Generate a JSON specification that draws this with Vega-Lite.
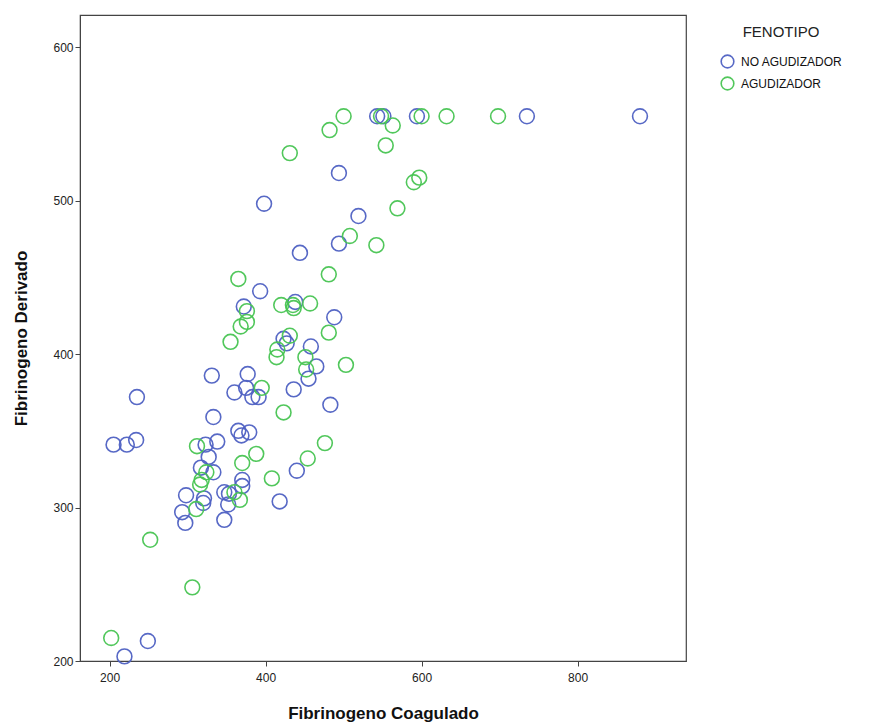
{
  "$schema": "https://vega.github.io/schema/vega-lite/v6.json",
  "width": 606,
  "height": 646,
  "autosize": {"type": "none"},
  "padding": {"left": 80, "top": 15, "right": 188, "bottom": 62},
  "background": "white",
  "config": {
    "font": "Liberation Sans",
    "view": {"stroke": "#444", "strokeWidth": 1.2},
    "axis": {"grid": false, "domainColor": "#444", "tickColor": "#444", "labelColor": "#222", "labelFontSize": 12, "titleFontSize": 17, "titleFontWeight": "bold", "titleColor": "#111", "tickSize": 5}
  },
  "data": {"values": [
    {"coag": 880, "der": 555, "fenotipo": "NO AGUDIZADOR"},
    {"coag": 735, "der": 555, "fenotipo": "NO AGUDIZADOR"},
    {"coag": 594, "der": 555, "fenotipo": "NO AGUDIZADOR"},
    {"coag": 543, "der": 555, "fenotipo": "NO AGUDIZADOR"},
    {"coag": 551, "der": 555, "fenotipo": "NO AGUDIZADOR"},
    {"coag": 494, "der": 518, "fenotipo": "NO AGUDIZADOR"},
    {"coag": 398, "der": 498, "fenotipo": "NO AGUDIZADOR"},
    {"coag": 519, "der": 490, "fenotipo": "NO AGUDIZADOR"},
    {"coag": 494, "der": 472, "fenotipo": "NO AGUDIZADOR"},
    {"coag": 444, "der": 466, "fenotipo": "NO AGUDIZADOR"},
    {"coag": 393, "der": 441, "fenotipo": "NO AGUDIZADOR"},
    {"coag": 372, "der": 431, "fenotipo": "NO AGUDIZADOR"},
    {"coag": 438, "der": 434, "fenotipo": "NO AGUDIZADOR"},
    {"coag": 488, "der": 424, "fenotipo": "NO AGUDIZADOR"},
    {"coag": 423, "der": 410, "fenotipo": "NO AGUDIZADOR"},
    {"coag": 427, "der": 407, "fenotipo": "NO AGUDIZADOR"},
    {"coag": 458, "der": 405, "fenotipo": "NO AGUDIZADOR"},
    {"coag": 465, "der": 392, "fenotipo": "NO AGUDIZADOR"},
    {"coag": 455, "der": 384, "fenotipo": "NO AGUDIZADOR"},
    {"coag": 331, "der": 386, "fenotipo": "NO AGUDIZADOR"},
    {"coag": 377, "der": 387, "fenotipo": "NO AGUDIZADOR"},
    {"coag": 360, "der": 375, "fenotipo": "NO AGUDIZADOR"},
    {"coag": 375, "der": 378, "fenotipo": "NO AGUDIZADOR"},
    {"coag": 383, "der": 372, "fenotipo": "NO AGUDIZADOR"},
    {"coag": 391, "der": 372, "fenotipo": "NO AGUDIZADOR"},
    {"coag": 436, "der": 377, "fenotipo": "NO AGUDIZADOR"},
    {"coag": 483, "der": 367, "fenotipo": "NO AGUDIZADOR"},
    {"coag": 235, "der": 372, "fenotipo": "NO AGUDIZADOR"},
    {"coag": 333, "der": 359, "fenotipo": "NO AGUDIZADOR"},
    {"coag": 365, "der": 350, "fenotipo": "NO AGUDIZADOR"},
    {"coag": 379, "der": 349, "fenotipo": "NO AGUDIZADOR"},
    {"coag": 369, "der": 347, "fenotipo": "NO AGUDIZADOR"},
    {"coag": 205, "der": 341, "fenotipo": "NO AGUDIZADOR"},
    {"coag": 222, "der": 341, "fenotipo": "NO AGUDIZADOR"},
    {"coag": 234, "der": 344, "fenotipo": "NO AGUDIZADOR"},
    {"coag": 323, "der": 341, "fenotipo": "NO AGUDIZADOR"},
    {"coag": 338, "der": 343, "fenotipo": "NO AGUDIZADOR"},
    {"coag": 327, "der": 333, "fenotipo": "NO AGUDIZADOR"},
    {"coag": 317, "der": 326, "fenotipo": "NO AGUDIZADOR"},
    {"coag": 333, "der": 323, "fenotipo": "NO AGUDIZADOR"},
    {"coag": 298, "der": 308, "fenotipo": "NO AGUDIZADOR"},
    {"coag": 293, "der": 297, "fenotipo": "NO AGUDIZADOR"},
    {"coag": 297, "der": 290, "fenotipo": "NO AGUDIZADOR"},
    {"coag": 321, "der": 306, "fenotipo": "NO AGUDIZADOR"},
    {"coag": 320, "der": 303, "fenotipo": "NO AGUDIZADOR"},
    {"coag": 347, "der": 310, "fenotipo": "NO AGUDIZADOR"},
    {"coag": 353, "der": 309, "fenotipo": "NO AGUDIZADOR"},
    {"coag": 352, "der": 302, "fenotipo": "NO AGUDIZADOR"},
    {"coag": 370, "der": 318, "fenotipo": "NO AGUDIZADOR"},
    {"coag": 370, "der": 314, "fenotipo": "NO AGUDIZADOR"},
    {"coag": 347, "der": 292, "fenotipo": "NO AGUDIZADOR"},
    {"coag": 418, "der": 304, "fenotipo": "NO AGUDIZADOR"},
    {"coag": 440, "der": 324, "fenotipo": "NO AGUDIZADOR"},
    {"coag": 249, "der": 213, "fenotipo": "NO AGUDIZADOR"},
    {"coag": 219, "der": 203, "fenotipo": "NO AGUDIZADOR"},
    {"coag": 500, "der": 555, "fenotipo": "AGUDIZADOR"},
    {"coag": 482, "der": 546, "fenotipo": "AGUDIZADOR"},
    {"coag": 548, "der": 555, "fenotipo": "AGUDIZADOR"},
    {"coag": 600, "der": 555, "fenotipo": "AGUDIZADOR"},
    {"coag": 632, "der": 555, "fenotipo": "AGUDIZADOR"},
    {"coag": 698, "der": 555, "fenotipo": "AGUDIZADOR"},
    {"coag": 563, "der": 549, "fenotipo": "AGUDIZADOR"},
    {"coag": 554, "der": 536, "fenotipo": "AGUDIZADOR"},
    {"coag": 431, "der": 531, "fenotipo": "AGUDIZADOR"},
    {"coag": 569, "der": 495, "fenotipo": "AGUDIZADOR"},
    {"coag": 508, "der": 477, "fenotipo": "AGUDIZADOR"},
    {"coag": 542, "der": 471, "fenotipo": "AGUDIZADOR"},
    {"coag": 590, "der": 512, "fenotipo": "AGUDIZADOR"},
    {"coag": 597, "der": 515, "fenotipo": "AGUDIZADOR"},
    {"coag": 481, "der": 452, "fenotipo": "AGUDIZADOR"},
    {"coag": 365, "der": 449, "fenotipo": "AGUDIZADOR"},
    {"coag": 376, "der": 428, "fenotipo": "AGUDIZADOR"},
    {"coag": 368, "der": 418, "fenotipo": "AGUDIZADOR"},
    {"coag": 376, "der": 421, "fenotipo": "AGUDIZADOR"},
    {"coag": 355, "der": 408, "fenotipo": "AGUDIZADOR"},
    {"coag": 420, "der": 432, "fenotipo": "AGUDIZADOR"},
    {"coag": 435, "der": 432, "fenotipo": "AGUDIZADOR"},
    {"coag": 436, "der": 430, "fenotipo": "AGUDIZADOR"},
    {"coag": 457, "der": 433, "fenotipo": "AGUDIZADOR"},
    {"coag": 481, "der": 414, "fenotipo": "AGUDIZADOR"},
    {"coag": 431, "der": 412, "fenotipo": "AGUDIZADOR"},
    {"coag": 415, "der": 403, "fenotipo": "AGUDIZADOR"},
    {"coag": 414, "der": 398, "fenotipo": "AGUDIZADOR"},
    {"coag": 451, "der": 398, "fenotipo": "AGUDIZADOR"},
    {"coag": 452, "der": 390, "fenotipo": "AGUDIZADOR"},
    {"coag": 503, "der": 393, "fenotipo": "AGUDIZADOR"},
    {"coag": 395, "der": 378, "fenotipo": "AGUDIZADOR"},
    {"coag": 423, "der": 362, "fenotipo": "AGUDIZADOR"},
    {"coag": 312, "der": 340, "fenotipo": "AGUDIZADOR"},
    {"coag": 476, "der": 342, "fenotipo": "AGUDIZADOR"},
    {"coag": 388, "der": 335, "fenotipo": "AGUDIZADOR"},
    {"coag": 454, "der": 332, "fenotipo": "AGUDIZADOR"},
    {"coag": 370, "der": 329, "fenotipo": "AGUDIZADOR"},
    {"coag": 324, "der": 323, "fenotipo": "AGUDIZADOR"},
    {"coag": 318, "der": 318, "fenotipo": "AGUDIZADOR"},
    {"coag": 316, "der": 315, "fenotipo": "AGUDIZADOR"},
    {"coag": 311, "der": 299, "fenotipo": "AGUDIZADOR"},
    {"coag": 360, "der": 310, "fenotipo": "AGUDIZADOR"},
    {"coag": 367, "der": 305, "fenotipo": "AGUDIZADOR"},
    {"coag": 408, "der": 319, "fenotipo": "AGUDIZADOR"},
    {"coag": 252, "der": 279, "fenotipo": "AGUDIZADOR"},
    {"coag": 306, "der": 248, "fenotipo": "AGUDIZADOR"},
    {"coag": 202, "der": 215, "fenotipo": "AGUDIZADOR"}
  ]},
  "mark": {"type": "point", "shape": "circle", "filled": false, "size": 220, "strokeWidth": 1.6, "opacity": 0.95},
  "encoding": {
    "x": {"field": "coag", "type": "quantitative", "title": "Fibrinogeno Coagulado",
      "scale": {"domain": [162, 939], "nice": false, "zero": false},
      "axis": {"values": [200, 400, 600, 800], "titlePadding": 22, "labelPadding": 6}},
    "y": {"field": "der", "type": "quantitative", "title": "Fibrinogeno Derivado",
      "scale": {"domain": [200, 621], "nice": false, "zero": false},
      "axis": {"values": [200, 300, 400, 500, 600], "titlePadding": 22, "labelPadding": 2}},
    "color": {"field": "fenotipo", "type": "nominal", "title": "FENOTIPO",
      "scale": {"domain": ["NO AGUDIZADOR", "AGUDIZADOR"], "range": ["#4f61c3", "#48c553"]},
      "legend": {"orient": "none", "legendX": 640, "legendY": 10, "titleFontSize": 15, "titleFontWeight": "normal", "titleColor": "#222", "titleAnchor": "middle", "labelFontSize": 12, "labelColor": "#111", "labelOffset": 6, "symbolSize": 160, "symbolStrokeWidth": 1.6, "symbolType": "circle", "rowPadding": 1, "titlePadding": 14}}
  }
}
